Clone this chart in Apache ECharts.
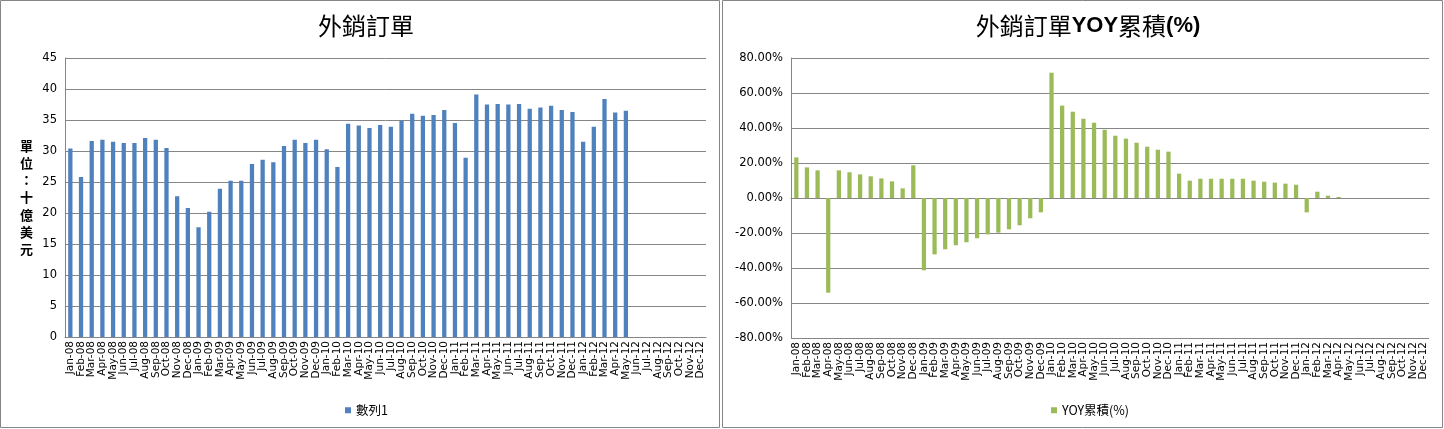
<!DOCTYPE html>
<html><head><meta charset="utf-8">
<script src="https://cdn.jsdelivr.net/npm/echarts@6/dist/echarts.min.js"></script>
<style>html,body{margin:0;padding:0;background:#fff}#c{width:1444px;height:429px}</style>
</head><body><div id="c"></div>
<script>
const months = ['Jan','Feb','Mar','Apr','May','Jun','Jul','Aug','Sep','Oct','Nov','Dec'];
const years = ['08','09','10','11','12'];
const categories = [];
years.forEach(y => months.forEach(m => categories.push(m + '-' + y)));

// 外銷訂單 (十億美元), Jan-08 .. May-12
const orders = [30.4,25.8,31.6,31.8,31.5,31.3,31.3,32.1,31.8,30.5,22.7,20.8,
  17.7,20.2,23.9,25.2,25.2,27.9,28.6,28.2,30.8,31.8,31.3,31.8,
  30.3,27.4,34.4,34.1,33.7,34.2,33.9,34.9,36.0,35.7,35.8,36.6,
  34.5,28.9,39.1,37.5,37.6,37.5,37.6,36.8,37.0,37.3,36.6,36.3,
  31.5,33.9,38.4,36.2,36.5];
// 外銷訂單YOY累積 (%), Jan-08 .. Apr-12
const yoy = [23.2,17.5,15.8,-54.1,15.8,14.7,13.5,12.4,11.2,9.5,5.5,18.7,
  -41.3,-32.2,-29.3,-27.0,-25.3,-23.0,-20.8,-19.8,-17.9,-15.6,-11.6,-8.2,
  71.6,52.8,49.3,45.3,43.0,39.0,35.6,33.9,31.6,29.3,27.6,26.5,
  13.9,9.9,11.0,11.0,11.0,11.0,11.0,9.9,9.3,8.8,8.2,7.6,
  -8.2,3.6,1.3,0.6];
const leftTicks = {min:0, max:45, interval:5};
const rightTicks = {min:-80, max:80, interval:20};

const lineC = '#868686';
const font = 'DejaVu Sans';
const cjk = 'Noto Sans CJK TC';
const chart = echarts.init(document.getElementById('c'));
const xLabel = {interval:0, rotate:90, fontSize:10.5, color:'#000', fontFamily:font, margin:4};
chart.setOption({
  animation:false,
  graphic:[
    {type:'rect', shape:{x:0.5,y:0.5,width:719,height:427}, style:{fill:'none',stroke:lineC,lineWidth:1}},
    {type:'rect', shape:{x:722.5,y:0.5,width:720,height:427}, style:{fill:'none',stroke:lineC,lineWidth:1}}
  ],
  title:[
    {text:'外銷訂單', left:361, textAlign:'center', top:9, textStyle:{fontSize:24, fontWeight:'normal', color:'#000', fontFamily:cjk}},
    {text:'{a|外銷訂單}{b|YOY}{a|累積}{b|(%)}', left:1083, textAlign:'center', top:9,
     textStyle:{rich:{a:{fontSize:24, fontWeight:'normal', color:'#000', fontFamily:cjk},
                      b:{fontSize:22, fontWeight:'bold', color:'#000', fontFamily:'Liberation Sans'}}}}
  ],
  legend:[
    {data:[{name:'數列1', icon:'rect'}], left:340, top:399, itemWidth:6, itemHeight:6, textStyle:{fontSize:12.5, color:'#000', fontFamily:cjk}},
    {data:[{name:'YOY累積(%)', icon:'rect'}], left:1046, top:399, itemWidth:6, itemHeight:6, textStyle:{fontSize:12.5, color:'#000', fontFamily:cjk}}
  ],
  grid:[
    {left:65, top:58, width:641, height:279},
    {left:791, top:58, width:638, height:280}
  ],
  xAxis:[
    {type:'category', gridIndex:0, data:categories, axisLine:{lineStyle:{color:lineC}}, axisTick:{inside:true, length:5, lineStyle:{color:lineC}}, axisLabel:xLabel},
    {type:'category', gridIndex:1, data:categories, position:'bottom', axisLine:{show:false, onZero:false}, axisTick:{show:false}, axisLabel:xLabel},
    {type:'category', gridIndex:1, data:categories, axisLine:{onZero:true, lineStyle:{color:lineC}}, axisTick:{inside:true, length:5, lineStyle:{color:lineC}}, axisLabel:{show:false}}
  ],
  yAxis:[
    {type:'value', gridIndex:0, min:leftTicks.min, max:leftTicks.max, interval:leftTicks.interval,
     axisLine:{show:true, lineStyle:{color:lineC}}, axisTick:{show:false},
     splitLine:{lineStyle:{color:lineC}},
     axisLabel:{fontSize:11.5, color:'#000', fontFamily:font, margin:8},
     name:'單\n位\n：\n十\n億\n美\n元', nameLocation:'middle', nameRotate:0, nameGap:32,
     nameTextStyle:{fontSize:13, fontWeight:'bold', color:'#000', lineHeight:17.3, fontFamily:cjk}},
    {type:'value', gridIndex:1, min:rightTicks.min, max:rightTicks.max, interval:rightTicks.interval,
     axisLine:{show:true, lineStyle:{color:lineC}}, axisTick:{show:false},
     splitLine:{lineStyle:{color:lineC}},
     axisLabel:{fontSize:11.5, color:'#000', fontFamily:font, margin:8, formatter:v => v.toFixed(2)+'%'}}
  ],
  series:[
    {name:'數列1', type:'bar', xAxisIndex:0, yAxisIndex:0, data:orders, barWidth:'40%', itemStyle:{color:'#4F81BD'}},
    {name:'YOY累積(%)', type:'bar', xAxisIndex:1, yAxisIndex:1, data:yoy, barWidth:'40%', itemStyle:{color:'#9BBB59'}}
  ]
});
</script></body></html>
